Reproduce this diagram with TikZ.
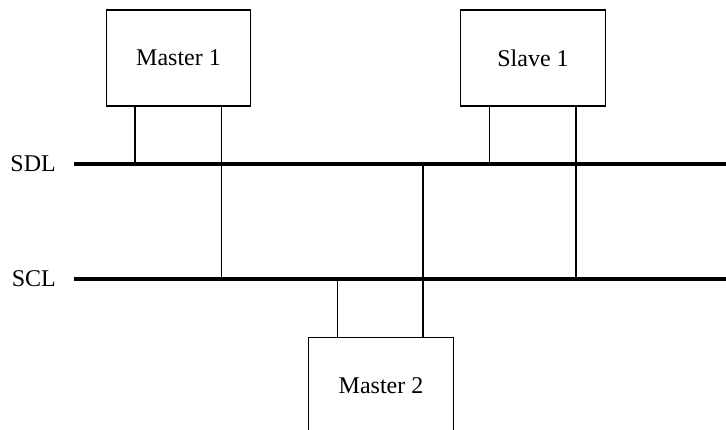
\documentclass[tikz,border=0pt]{standalone}
\usepackage{fontspec}
\setmainfont{Liberation Serif}
\usetikzlibrary{calc}
\begin{document}
\begin{tikzpicture}[x=1pt,y=-1pt,
  unitbox/.style={draw,line width=1.3pt,minimum width=144.5pt,minimum height=96pt,inner sep=0pt,font=\fontsize{24}{28}\selectfont},
  busline/.style={line width=4pt},
  wire/.style={line width=1.3pt},
  buslabel/.style={font=\fontsize{24}{28}\selectfont,inner sep=0pt}]
\useasboundingbox (0,0) rectangle (726,430);
\clip (0,0) rectangle (726,430);
\node[unitbox] (m1) at (178.5,58) {Master 1};
\node[unitbox] (s1) at (533,58) {Slave 1};
\node[unitbox] (m2) at (381,385.5) {Master 2};
\coordinate (sdlL) at (74,164);
\coordinate (sdlR) at (730,164);
\coordinate (sclL) at (74,279);
\coordinate (sclR) at (730,279);
\node[buslabel,anchor=east] (sdl) at (56,164) {SDL};
\node[buslabel,anchor=east] (scl) at (56,279) {SCL};
\draw[busline] (sdlL) -- (sdlR);
\draw[busline] (sclL) -- (sclR);
\draw[wire] ([xshift=29.5pt]m1.south west) -- ([xshift=29.5pt]m1.south west |- sdlL);
\draw[wire] ([xshift=116pt]m1.south west) -- ([xshift=116pt]m1.south west |- sclL);
\draw[wire] ([xshift=29.5pt]s1.south west) -- ([xshift=29.5pt]s1.south west |- sdlL);
\draw[wire] ([xshift=116pt]s1.south west) -- ([xshift=116pt]s1.south west |- sclL);
\draw[wire] ([xshift=29.5pt]m2.north west) -- ([xshift=29.5pt]m2.north west |- sclL);
\draw[wire] ([xshift=115pt]m2.north west) -- ([xshift=115pt]m2.north west |- sdlL);
\end{tikzpicture}
\end{document}
